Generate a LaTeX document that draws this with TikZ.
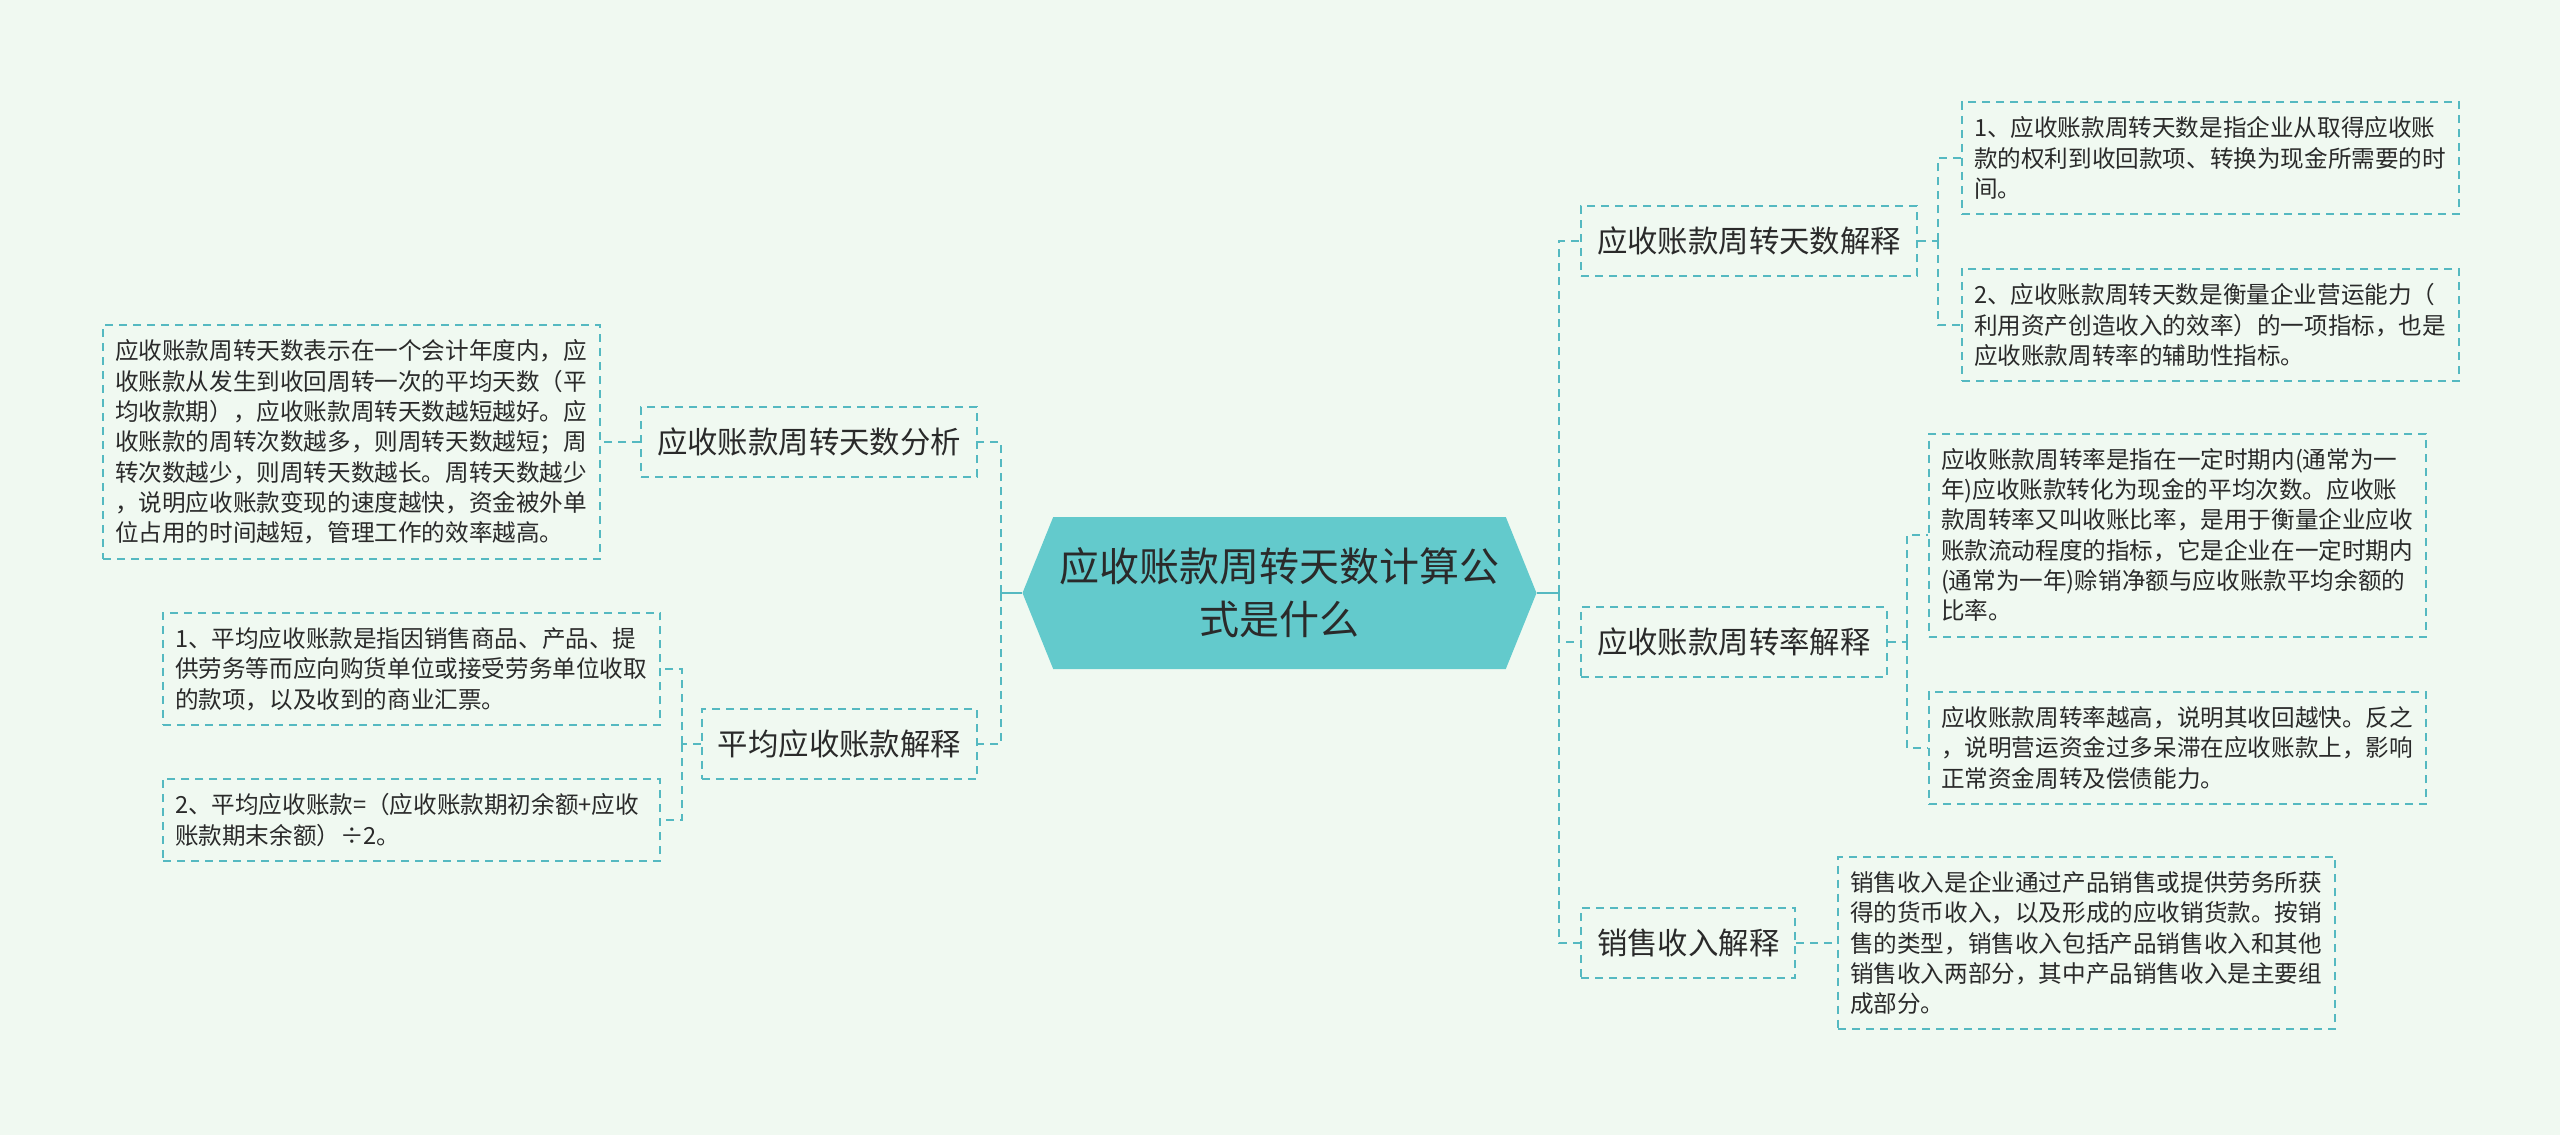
\documentclass[tikz,border=0pt]{standalone}
\usepackage{fontspec}
\setmainfont{Noto Sans CJK SC}
\usepackage{xcolor}
\usepackage{tikz}
\usetikzlibrary{shapes.symbols}

\definecolor{bgmint}{HTML}{F0F9F1}
\definecolor{tealline}{HTML}{55B9C1}
\definecolor{tealfill}{HTML}{63CACC}
\definecolor{inkgray}{HTML}{2A2A2A}

\begin{document}
\begin{tikzpicture}[x=0.5pt, y=-0.5pt,
        topic/.style={signal, signal to=east and west, signal pointer angle=136, fill=tealfill, text=inkgray, minimum width=257pt, minimum height=76pt, inner sep=0pt, align=center, font=\fontsize{20pt}{26.5pt}\selectfont},
        branch/.style={draw=tealline, line width=1pt, dash pattern=on 4pt off 3pt, text=inkgray, minimum height=35pt, inner xsep=8pt, font=\fontsize{15.2pt}{18pt}\selectfont},
        leaf/.style={draw=tealline, line width=1pt, dash pattern=on 4pt off 3pt, text=inkgray, text width=236.5pt, inner xsep=6pt, inner ysep=7.4pt, align=left, font=\fontsize{11.8pt}{15.15pt}\selectfont},
        stem/.style={draw=tealline, line width=1.3pt},
        trunk/.style={draw=tealline, line width=1.3pt, dash pattern=on 4pt off 3pt},
        twig/.style={draw=tealline, line width=1pt, dash pattern=on 4pt off 3pt}]
        \useasboundingbox (0,0) rectangle (2560,1135);
        \fill[bgmint] (0,0) rectangle (2560,1135);

        % Central topic
        \node (topic) [topic] at (1279.5,593) {应收账款周转天数计算公\\式是什么};

        % Right branches
        \node (turnday) [branch, anchor=west] at (1580,241) {应收账款周转天数解释};
        \node (turnrate) [branch, anchor=west] at (1580,642) {应收账款周转率解释};
        \node (sales) [branch, anchor=west] at (1580,943) {销售收入解释};

        % Left branches
        \node (analysis) [branch, anchor=east] at (978,442) {应收账款周转天数分析};
        \node (average) [branch, anchor=east] at (978,744) {平均应收账款解释};

        % Right details
        \node (turnday1) [leaf, anchor=west] at (1961,158) {1、应收账款周转天数是指企业从取得应收账\\款的权利到收回款项、转换为现金所需要的时\\间。};
        \node (turnday2) [leaf, anchor=west] at (1961,325) {2、应收账款周转天数是衡量企业营运能力（\\利用资产创造收入的效率）的一项指标，也是\\应收账款周转率的辅助性指标。};
        \node (turnrate1) [leaf, anchor=west] at (1928,535) {应收账款周转率是指在一定时期内(通常为一\\年)应收账款转化为现金的平均次数。应收账\\款周转率又叫收账比率，是用于衡量企业应收\\账款流动程度的指标，它是企业在一定时期内\\(通常为一年)赊销净额与应收账款平均余额的\\比率。};
        \node (turnrate2) [leaf, anchor=west] at (1928,748) {应收账款周转率越高，说明其收回越快。反之\\，说明营运资金过多呆滞在应收账款上，影响\\正常资金周转及偿债能力。};
        \node (sales1) [leaf, anchor=west] at (1837,943) {销售收入是企业通过产品销售或提供劳务所获\\得的货币收入，以及形成的应收销货款。按销\\售的类型，销售收入包括产品销售收入和其他\\销售收入两部分，其中产品销售收入是主要组\\成部分。};

        % Left details
        \node (analysis1) [leaf, anchor=east] at (601,442) {应收账款周转天数表示在一个会计年度内，应\\收账款从发生到收回周转一次的平均天数（平\\均收款期），应收账款周转天数越短越好。应\\收账款的周转次数越多，则周转天数越短；周\\转次数越少，则周转天数越长。周转天数越少\\，说明应收账款变现的速度越快，资金被外单\\位占用的时间越短，管理工作的效率越高。};
        \node (average1) [leaf, anchor=east] at (661,669) {1、平均应收账款是指因销售商品、产品、提\\供劳务等而应向购货单位或接受劳务单位收取\\的款项，以及收到的商业汇票。};
        \node (average2) [leaf, anchor=east] at (661,820) {2、平均应收账款=（应收账款期初余额+应收\\账款期末余额）÷2。};

        % Joints
        \coordinate (rjoint) at (1559,593);
        \coordinate (ljoint) at (1001,593);
        \coordinate (dayjoint) at (1938,241);
        \coordinate (ratejoint) at (1907,642);
        \coordinate (avgjoint) at (682,744);

        % Main connectors
        \draw[stem] (topic.east) -- (rjoint);
        \draw[stem] (topic.west) -- (ljoint);
        \draw[trunk] (rjoint) |- (turnday.west);
        \draw[trunk] (rjoint) |- (turnrate.west);
        \draw[trunk] (rjoint) |- (sales.west);
        \draw[trunk] (ljoint) |- (analysis.east);
        \draw[trunk] (ljoint) |- (average.east);

        % Detail connectors
        \draw[twig] (turnday.east) -- (dayjoint);
        \draw[twig] (dayjoint) |- (turnday1.west);
        \draw[twig] (dayjoint) |- (turnday2.west);
        \draw[twig] (turnrate.east) -- (ratejoint);
        \draw[twig] (ratejoint) |- (turnrate1.west);
        \draw[twig] (ratejoint) |- (turnrate2.west);
        \draw[twig] (sales.east) -- (sales1.west);
        \draw[twig] (analysis.west) -- (analysis1.east);
        \draw[twig] (average.west) -- (avgjoint);
        \draw[twig] (avgjoint) |- (average1.east);
        \draw[twig] (avgjoint) |- (average2.east);
    \end{tikzpicture}
\end{document}
